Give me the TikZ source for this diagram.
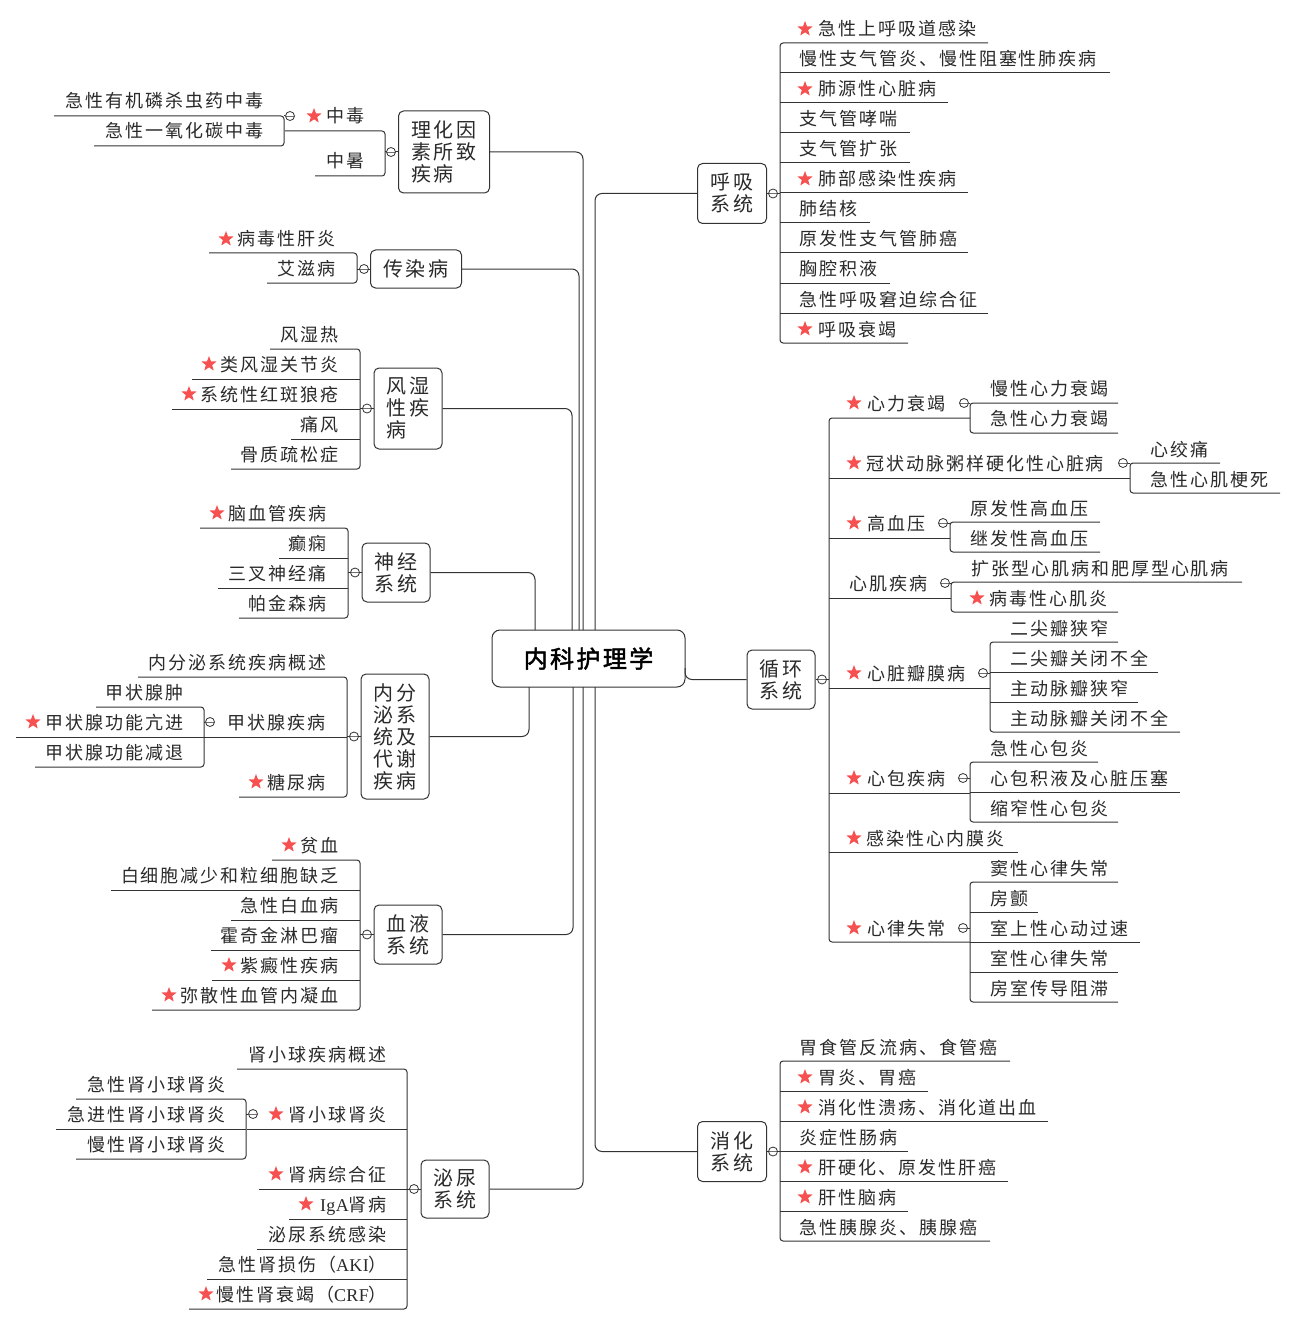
\documentclass[tikz,border=0pt]{standalone}
\usepackage{fontspec}
\usetikzlibrary{shapes.geometric}
\setmainfont{Noto Sans CJK SC}[LetterSpace=11]
\newfontfamily\lat{Liberation Serif}[LetterSpace=2]
\newfontfamily\rootfont{Noto Sans CJK SC}[LetterSpace=10,FakeBold=2]
\definecolor{ink}{HTML}{2A2A2A}
\definecolor{edge}{HTML}{333333}
\definecolor{starred}{HTML}{F65050}
\tikzset{
 ln/.style={draw=edge,line width=1pt},
 conn/.style={ln,rounded corners=7pt},
 lab/.style={inner sep=0pt,text=ink,font=\fontsize{18}{20}\selectfont,text height=16pt,text depth=2pt},
 redstar/.style={star,star points=5,star point ratio=2.4,fill=starred,draw=none,inner sep=0pt,minimum size=16pt},
 topic/.style={draw=edge,line width=1pt,rounded corners=5pt,fill=white,inner sep=0pt,text=ink,align=left,font=\fontsize{20}{22}\selectfont},
 rootbox/.style={topic,rounded corners=8pt,minimum width=193pt,minimum height=57pt,font=\fontsize{24}{26}\rootfont\selectfont,text=black},
 dot/.style={circle,draw=edge,line width=.8pt,fill=white,inner sep=0pt,minimum size=9pt,
   path picture={\draw[edge!70,line width=.5pt] (path picture bounding box.west) -- (path picture bounding box.east);}}
}
\newcommand\LT[7]{\node[lab,anchor=east] (#1) at (#2,#3) {#7};\coordinate (#1-a) at (#4,#6);\coordinate (#1-b) at (#5,#6);}
\newcommand\RT[7]{\node[lab,anchor=west] (#1) at (#2,#3) {#7};\coordinate (#1-a) at (#4,#6);\coordinate (#1-b) at (#5,#6);}
\newcommand\ST[3]{\node[redstar] (#1-s) at (#2,#3) {};}
\newcommand\BL[2]{\draw[ln,rounded corners=3pt] (#1-a) -- (#1-b) -- (#2-b) -- (#2-a);}
\newcommand\BR[2]{\draw[ln,rounded corners=3pt] (#1-b) -- (#1-a) -- (#2-a) -- (#2-b);}
\newcommand\MID[1]{\foreach \m in {#1}{\draw[ln] (\m-a) -- (\m-b);}}
\newcommand\TP[6]{\node[topic,minimum width=#4pt,minimum height=#5pt] (#1) at (#2,#3) {#6};}
\begin{document}
\begin{tikzpicture}[x=1pt,y=-1pt]
\useasboundingbox (0,0) rectangle (1296,1324);
\fill[white] (0,0) rectangle (1296,1324);
% ---------- left: poisoning etc.
\LT{a1}{365}{116}{285}{385}{131}{中毒}\ST{a1}{314}{116}
\LT{a2}{365}{161}{315}{385}{176}{中暑}
\BL{a1}{a2}
\LT{a11}{264}{101}{54}{284}{116}{急性有机磷杀虫药中毒}
\LT{a12}{264}{131}{94}{284}{146}{急性一氧化碳中毒}
\BL{a11}{a12}
% infectious
\LT{b1}{336}{239}{209}{357}{253}{病毒性肝炎}\ST{b1}{226}{239}
\LT{b2}{336}{269}{267}{357}{283}{艾滋病}
\BL{b1}{b2}
% rheumatic
\LT{c1}{339}{334}{270}{360}{349}{风湿热}
\LT{c2}{339}{364}{192}{360}{379}{类风湿关节炎}\ST{c2}{209}{364}
\LT{c3}{339}{394}{172}{360}{409}{系统性红斑狼疮}\ST{c3}{189}{394}
\LT{c4}{339}{424}{291}{360}{439}{痛风}
\LT{c5}{339}{454}{231}{360}{469}{骨质疏松症}
\BL{c1}{c5}\MID{c2,c3,c4}
% nervous
\LT{d1}{327}{513}{200}{348}{528}{脑血管疾病}\ST{d1}{217}{513}
\LT{d2}{327}{543}{279}{348}{558}{癫痫}
\LT{d3}{327}{573}{218}{348}{588}{三叉神经痛}
\LT{d4}{327}{603}{239}{348}{618}{帕金森病}
\BL{d1}{d4}\MID{d2,d3}
% endocrine
\LT{e1}{327}{662}{138}{347}{677}{内分泌系统疾病概述}
\LT{e2}{326}{722}{204}{347}{737}{甲状腺疾病}
\LT{e3}{326}{782}{239}{347}{797}{糖尿病}\ST{e3}{256}{782}
\BL{e1}{e3}\MID{e2}
\LT{e21}{184}{692}{96}{204}{707}{甲状腺肿}
\LT{e22}{184}{722}{16}{204}{737}{甲状腺功能亢进}\ST{e22}{33}{722}
\LT{e23}{184}{752}{35}{204}{767}{甲状腺功能减退}
\BL{e21}{e23}\MID{e22}
% blood
\LT{f1}{339}{845}{272}{360}{860}{贫血}\ST{f1}{289}{845}
\LT{f2}{339}{875}{111}{360}{890}{白细胞减少和粒细胞缺乏}
\LT{f3}{339}{905}{231}{360}{920}{急性白血病}
\LT{f4}{339}{935}{211}{360}{950}{霍奇金淋巴瘤}
\LT{f5}{339}{965}{212}{360}{980}{紫癜性疾病}\ST{f5}{229}{965}
\LT{f6}{339}{995}{152}{360}{1010}{弥散性血管内凝血}\ST{f6}{169}{995}
\BL{f1}{f6}\MID{f2,f3,f4,f5}
% urinary
\LT{g1}{387}{1054}{237}{407}{1069}{肾小球疾病概述}
\LT{g2}{387}{1114}{247}{407}{1129}{肾小球肾炎}\ST{g2}{276}{1114}
\LT{g3}{387}{1174}{259}{407}{1189}{肾病综合征}\ST{g3}{276}{1174}
\LT{g4}{387}{1204}{289}{407}{1219}{{\lat IgA}肾病}\ST{g4}{306}{1204}
\LT{g5}{387}{1234}{257}{407}{1249}{泌尿系统感染}
\LT{g6}{387}{1264}{207}{407}{1279}{急性肾损伤（{\lat AKI}）}
\LT{g7}{387}{1294}{189}{407}{1309}{慢性肾衰竭（{\lat CRF}）}\ST{g7}{206}{1294}
\BL{g1}{g7}\MID{g2,g3,g4,g5,g6}
\LT{g21}{226}{1084}{76}{246}{1099}{急性肾小球肾炎}
\LT{g22}{226}{1114}{56}{246}{1129}{急进性肾小球肾炎}
\LT{g23}{226}{1144}{76}{246}{1159}{慢性肾小球肾炎}
\BL{g21}{g23}\MID{g22}
% ---------- right: respiratory
\RT{h1}{818}{29}{780}{988}{43}{急性上呼吸道感染}\ST{h1}{805}{29}
\RT{h2}{799}{59}{780}{1110}{73}{慢性支气管炎、慢性阻塞性肺疾病}
\RT{h3}{818}{89}{780}{948}{103}{肺源性心脏病}\ST{h3}{805}{89}
\RT{h4}{799}{119}{780}{910}{133}{支气管哮喘}
\RT{h5}{799}{149}{780}{910}{163}{支气管扩张}
\RT{h6}{818}{179}{780}{968}{193}{肺部感染性疾病}\ST{h6}{805}{179}
\RT{h7}{799}{209}{780}{870}{223}{肺结核}
\RT{h8}{799}{239}{780}{968}{253}{原发性支气管肺癌}
\RT{h9}{799}{269}{780}{890}{283}{胸腔积液}
\RT{h10}{799}{299}{780}{988}{313}{急性呼吸窘迫综合征}
\RT{h11}{818}{329}{780}{908}{343}{呼吸衰竭}\ST{h11}{805}{329}
\BR{h1}{h11}\MID{h2,h3,h4,h5,h6,h7,h8,h9,h10}
% circulatory
\RT{i1}{867}{403}{829}{970}{418}{心力衰竭}\ST{i1}{854}{403}
\RT{i2}{866}{463}{829}{1130}{478}{冠状动脉粥样硬化性心脏病}\ST{i2}{854}{463}
\RT{i3}{867}{523}{829}{950}{538}{高血压}\ST{i3}{854}{523}
\RT{i4}{849}{583}{829}{951}{598}{心肌疾病}
\RT{i5}{867}{673}{829}{990}{688}{心脏瓣膜病}\ST{i5}{854}{673}
\RT{i6}{867}{778}{829}{970}{793}{心包疾病}\ST{i6}{854}{778}
\RT{i7}{866}{838}{829}{1018}{852}{感染性心内膜炎}\ST{i7}{854}{838}
\RT{i8}{867}{928}{829}{970}{942}{心律失常}\ST{i8}{854}{928}
\BR{i1}{i8}\MID{i2,i3,i4,i5,i6,i7}
\RT{i11}{990}{388}{970}{1118}{403}{慢性心力衰竭}
\RT{i12}{990}{418}{970}{1118}{433}{急性心力衰竭}
\BR{i11}{i12}
\RT{i21}{1150}{449}{1130}{1220}{463}{心绞痛}
\RT{i22}{1150}{479}{1130}{1280}{493}{急性心肌梗死}
\BR{i21}{i22}
\RT{i31}{970}{508}{950}{1100}{522}{原发性高血压}
\RT{i32}{970}{538}{950}{1100}{552}{继发性高血压}
\BR{i31}{i32}
\RT{i41}{971}{568}{951}{1242}{582}{扩张型心肌病和肥厚型心肌病}
\RT{i42}{989}{598}{951}{1118}{612}{病毒性心肌炎}\ST{i42}{977}{598}
\BR{i41}{i42}
\RT{i51}{1010}{628}{990}{1118}{642}{二尖瓣狭窄}
\RT{i52}{1010}{658}{990}{1158}{672}{二尖瓣关闭不全}
\RT{i53}{1010}{688}{990}{1138}{702}{主动脉瓣狭窄}
\RT{i54}{1010}{718}{990}{1180}{732}{主动脉瓣关闭不全}
\BR{i51}{i54}\MID{i52,i53}
\RT{i61}{990}{748}{970}{1098}{762}{急性心包炎}
\RT{i62}{990}{778}{970}{1180}{792}{心包积液及心脏压塞}
\RT{i63}{990}{808}{970}{1118}{822}{缩窄性心包炎}
\BR{i61}{i63}\MID{i62}
\RT{i81}{990}{868}{970}{1118}{882}{窦性心律失常}
\RT{i82}{990}{898}{970}{1038}{912}{房颤}
\RT{i83}{990}{928}{970}{1140}{942}{室上性心动过速}
\RT{i84}{990}{958}{970}{1118}{972}{室性心律失常}
\RT{i85}{990}{988}{970}{1118}{1002}{房室传导阻滞}
\BR{i81}{i85}\MID{i82,i83,i84}
% digestive
\RT{j1}{799}{1047}{780}{1010}{1061}{胃食管反流病、食管癌}
\RT{j2}{818}{1077}{780}{928}{1091}{胃炎、胃癌}\ST{j2}{805}{1077}
\RT{j3}{818}{1107}{780}{1048}{1121}{消化性溃疡、消化道出血}\ST{j3}{805}{1107}
\RT{j4}{799}{1137}{780}{908}{1151}{炎症性肠病}
\RT{j5}{818}{1167}{780}{1008}{1181}{肝硬化、原发性肝癌}\ST{j5}{805}{1167}
\RT{j6}{818}{1197}{780}{908}{1211}{肝性脑病}\ST{j6}{805}{1197}
\RT{j7}{799}{1227}{780}{990}{1241}{急性胰腺炎、胰腺癌}
\BR{j1}{j7}\MID{j2,j3,j4,j5,j6}
% ---------- topics
\node[rootbox] (root) at (588.5,658.5) {内科护理学};
\TP{ta}{444}{152}{91}{82}{理化因\\素所致\\疾病}
\TP{tb}{416}{269}{91}{38}{传染病}
\TP{tc}{408}{408.5}{68}{81}{风湿\\性疾\\病}
\TP{td}{396}{572.5}{68}{59}{神经\\系统}
\TP{te}{395}{736.5}{68}{125}{内分\\泌系\\统及\\代谢\\疾病}
\TP{tf}{408}{934.5}{68}{59}{血液\\系统}
\TP{tg}{455}{1189}{68}{58}{泌尿\\系统}
\TP{th}{732}{193.5}{69}{60}{呼吸\\系统}
\TP{ti}{781}{679.5}{68}{59}{循环\\系统}
\TP{tj}{732}{1151.5}{69}{60}{消化\\系统}
% ---------- trunk connectors
\coordinate (ra) at (583,630);\coordinate (rb) at (579,630);\coordinate (rc) at (572,630);
\coordinate (rd) at (535,630);\coordinate (re) at (529,687);\coordinate (rf) at (573,687);
\coordinate (rg) at (583,687);\coordinate (rh) at (595,630);\coordinate (ri) at (685,668);\coordinate (rj) at (595,687);
\draw[conn] (ta.east) -| (ra);
\draw[conn] (tb.east) -| (rb);
\draw[conn] (tc.east) -| (rc);
\draw[conn] (td.east) -| (rd);
\draw[conn] (te.east) -| (re);
\draw[conn] (tf.east) -| (rf);
\draw[conn] (tg.east) -| (rg);
\draw[conn] (th.west) -| (rh);
\draw[conn] (ti.west) -| (ri);
\draw[conn] (tj.west) -| (rj);
% ---------- collapse dots
\foreach \n/\x/\y/\from/\to in {
 ca/391/152/ta.west/a2-b, cb/364/269/tb.west/b2-b, cc/367/408.5/tc.west/c5-b,
 cd/355/572.5/td.west/d4-b, ce/354/736.5/te.west/e3-b, cf/367/934.5/tf.west/f6-b,
 cg/414/1189/tg.west/g7-b, ch/773/193.5/th.east/h1-a, ci/822/679.5/ti.east/i1-a, cj/773/1151.5/tj.east/j1-a}{
 \draw[ln] (\from) -- (\to |- \from);
 \node[dot] (\n) at (\x,\y) {};
}
\foreach \n/\x/\y/\to in {
 ca1/290/116/a11-b, ce2/210/722/e21-b, cg2/253/1114/g21-b,
 ci1/964/403/i11-a, ci2/1123/463/i21-a, ci3/943/523/i31-a, ci4/945/583/i41-a,
 ci5/983/673/i51-a, ci6/963/778/i61-a, ci8/963/928/i81-a}{
 \node[dot] (\n) at (\x,\y) {};
 \draw[ln] (\n) -- (\to |- \n);
}
\end{tikzpicture}
\end{document}
